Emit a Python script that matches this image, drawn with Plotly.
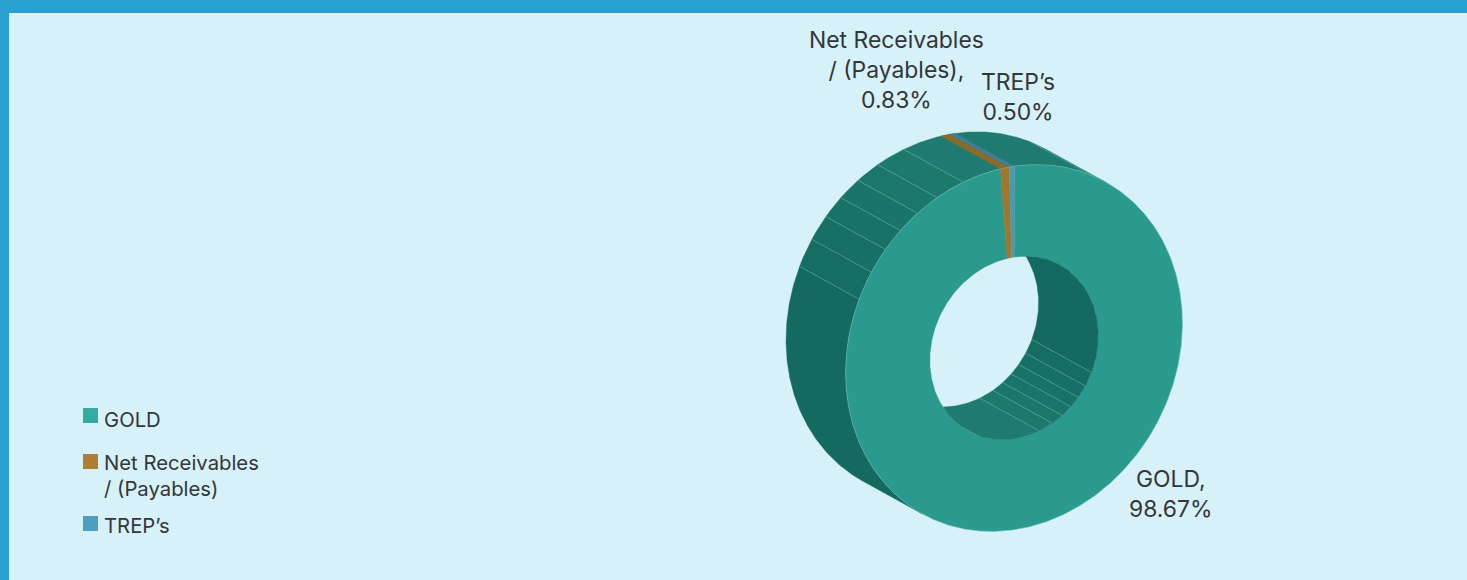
import math
import plotly.graph_objects as go

# Portfolio allocation
categories = ["GOLD", "Net Receivables / (Payables)", "TREP's"]
values = [98.67, 0.83, 0.50]
legend_names = ["GOLD", "Net Receivables<br>/ (Payables)", "TREP’s"]
data_label_names = ["GOLD,", "Net Receivables<br>/ (Payables),", "TREP’s"]

# Palette
BACKGROUND = "#d7f1f8"
BORDER = "#27a0d0"
TEXT = "#33363a"
FACE_COLORS = ["#2a9a8f", "#a0772c", "#4c98ad"]
WALL_SLICE_COLORS = ["#1e7a6e", "#8c6a2c", "#3f7f97"]
LEGEND_COLORS = ["#33ab9f", "#ae7e33", "#4c9fbe"]
SEAM_COLOR = "rgba(130,200,190,0.45)"
FONT = "Inter"

# Extruded ring geometry, in page pixels
CX, CY = 1014.0, 348.0
MAJOR, MINOR = 189.6, 161.5
E1 = (0.482, -0.876)
E2 = (0.876, 0.482)
DEPTH_ALONG_E2 = -68.0
HOLE_RATIO = 0.5
START_ANGLE = -32.7

# Shaded bands of the outer wall (start, end, colour); the inner wall repeats them 180 degrees on
WALL_BANDS = [
    (-180.0, -99.7, "#146a60"),
    (-99.7, -90.7, "#166d63"),
    (-90.7, -82.6, "#176f65"),
    (-82.6, -75.3, "#197267"),
    (-75.3, -67.8, "#1b7469"),
    (-67.8, -60.0, "#1c776b"),
    (-60.0, -50.4, "#1e796d"),
    (-50.4, 0.0, "#1f7b6f"),
]
SEAM_ANGLES = [-99.7, -90.7, -82.6, -75.3, -67.8, -60.0, -50.4, -6.0]


def project(u, v):
    return (CX + u * E1[0] + v * E2[0], CY + u * E1[1] + v * E2[1])


def rim(angle, ratio=1.0, shift=0.0):
    t = math.radians(angle)
    return project(MAJOR * ratio * math.cos(t), MINOR * ratio * math.sin(t) + shift)


def inner_back(angle):
    # Far edge of the hole wall, stopped where the near rim hides it
    t = math.radians(angle)
    half = MINOR * HOLE_RATIO * math.sin(t)
    return project(MAJOR * HOLE_RATIO * math.cos(t), max(half + DEPTH_ALONG_E2, -half))


def sweep(a, b, step=0.5):
    n = max(2, int(abs(b - a) / step) + 1)
    return [a + (b - a) * i / (n - 1) for i in range(n)]


fig = go.Figure()


def add_polygon(points, color):
    fig.add_trace(go.Scatter(
        x=[p[0] for p in points] + [points[0][0]],
        y=[p[1] for p in points] + [points[0][1]],
        mode="lines", fill="toself", fillcolor=color,
        line=dict(width=0.4, color=color), hoverinfo="skip", showlegend=False,
    ))


def add_seam(p, q):
    fig.add_trace(go.Scatter(
        x=[p[0], q[0]], y=[p[1], q[1]], mode="lines",
        line=dict(width=0.8, color=SEAM_COLOR), hoverinfo="skip", showlegend=False,
    ))


# Slice boundaries, clockwise from the start angle
edges = [START_ANGLE]
for value in values:
    edges.append(edges[-1] + value / sum(values) * 360.0)

# Outer wall
for start, end, color in WALL_BANDS:
    arc = sweep(start, end)
    add_polygon([rim(a) for a in arc] + [rim(a, shift=DEPTH_ALONG_E2) for a in reversed(arc)], color)
for i in (1, 2):
    arc = sweep(edges[i] - 360.0, edges[i + 1] - 360.0, 0.2)
    add_polygon([rim(a) for a in arc] + [rim(a, shift=DEPTH_ALONG_E2) for a in reversed(arc)],
                WALL_SLICE_COLORS[i])
for angle in SEAM_ANGLES:
    add_seam(rim(angle), rim(angle, shift=DEPTH_ALONG_E2))

# Front face
for i, color in enumerate(FACE_COLORS):
    arc = sweep(edges[i], edges[i + 1], 0.2 if i else 0.5)
    add_polygon([rim(a) for a in arc] + [rim(a, HOLE_RATIO) for a in reversed(arc)], color)
outline = sweep(0, 360)
fig.add_trace(go.Scatter(
    x=[rim(a)[0] for a in outline], y=[rim(a)[1] for a in outline], mode="lines",
    line=dict(width=0.6, color="rgba(190,235,230,0.4)"), hoverinfo="skip", showlegend=False,
))

# Wall of the hole
for start, end, color in WALL_BANDS:
    arc = sweep(start + 180.0, end + 180.0)
    add_polygon([rim(a, HOLE_RATIO) for a in arc] + [inner_back(a) for a in reversed(arc)], color)
for angle in SEAM_ANGLES:
    add_seam(rim(angle + 180.0, HOLE_RATIO), inner_back(angle + 180.0))

# Legend swatches
legend_x = [90.5, 90.5, 90.5]
legend_y = [415.5, 461.5, 523.5]
legend_text_y = [419, 475, 525]
fig.add_trace(go.Scatter(
    x=legend_x, y=legend_y, mode="markers",
    marker=dict(symbol="square", size=15, color=LEGEND_COLORS, line=dict(width=0)),
    hoverinfo="skip", showlegend=False,
))

annotations = []
for name, y in zip(legend_names, legend_text_y):
    annotations.append(dict(
        x=102, y=y, text=name, xref="x", yref="y", xanchor="left", yanchor="middle",
        align="left", showarrow=False, font=dict(family=FONT, size=20.3, color=TEXT),
    ))

# Data labels
label_x = [1170, 896, 1018]
label_y = [494, 69.5, 97]
for name, value, x, y in zip(data_label_names, values, label_x, label_y):
    annotations.append(dict(
        x=x, y=y, text=f"{name}<br>{value:.2f}%", xref="x", yref="y", xanchor="center",
        yanchor="middle", align="center", showarrow=False,
        font=dict(family=FONT, size=22.9, color=TEXT),
    ))

fig.update_layout(
    width=1467, height=580, margin=dict(l=0, r=0, t=0, b=0),
    paper_bgcolor=BACKGROUND, plot_bgcolor=BACKGROUND, showlegend=False,
    xaxis=dict(range=[0, 1467], visible=False, fixedrange=True),
    yaxis=dict(range=[580, 0], visible=False, fixedrange=True),
    annotations=annotations,
    shapes=[
        dict(type="rect", xref="paper", yref="paper", x0=0, x1=1, y0=1 - 13 / 580, y1=1,
             fillcolor=BORDER, line=dict(width=0), layer="below"),
        dict(type="rect", xref="paper", yref="paper", x0=0, x1=9 / 1467, y0=0, y1=1,
             fillcolor=BORDER, line=dict(width=0), layer="below"),
    ],
)

fig.write_html("out.html", config=dict(displayModeBar=False))
